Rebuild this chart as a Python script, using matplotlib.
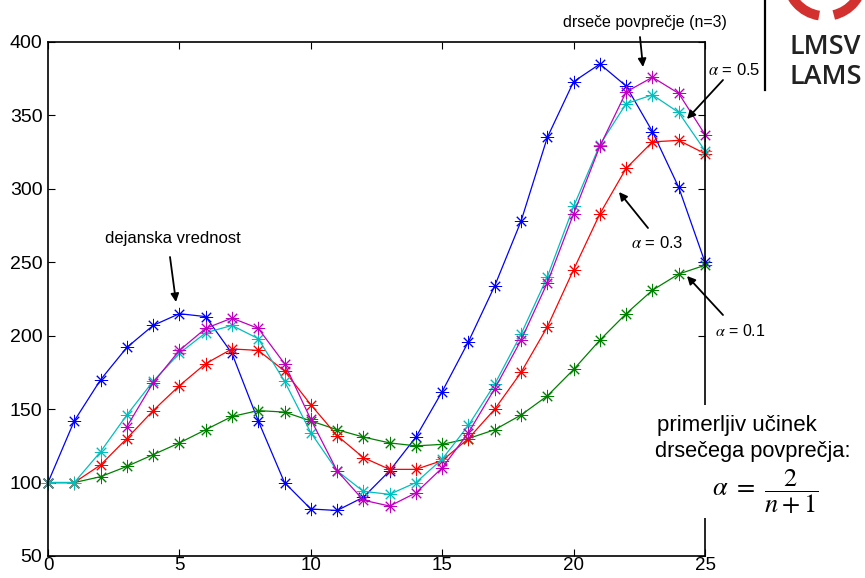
import matplotlib
matplotlib.use("Agg")
import matplotlib.pyplot as plt
from matplotlib.patches import Arc, Rectangle
from matplotlib.lines import Line2D

plt.rcParams["font.family"] = ["Liberation Sans", "DejaVu Sans"]
plt.rcParams["mathtext.fontset"] = "stix"

t = list(range(26))
actual = [100, 142, 170, 192, 207, 215, 213, 188, 142, 100, 82, 81, 90, 108, 131,
          162, 196, 234, 278, 335, 373, 385, 370, 339, 301, 250]
ema_03 = [100, 100, 112, 130, 149, 166, 181, 191, 190, 176, 153, 132, 117, 109, 109,
          115, 130, 150, 175, 206, 245, 283, 314, 332, 333, 324]
ema_01 = [100, 100, 104, 111, 119, 127, 136, 145, 149, 148, 142, 136, 131, 127, 125,
          126, 130, 136, 146, 159, 177, 197, 215, 231, 242, 248]
ema_05 = [100, 100, 121, 146, 169, 188, 202, 207, 198, 169, 134, 108, 94, 92, 100,
          116, 139, 167, 201, 240, 288, 330, 358, 364, 352, 326]
ma_t = list(range(3, 26))
ma_3 = [138, 168, 190, 205, 212, 205, 181, 143, 108, 88, 84, 93, 110, 134, 164,
        197, 236, 283, 329, 366, 376, 365, 337]

W, H = 865, 578
fig = plt.figure(figsize=(W / 100, H / 100), dpi=100)
ax = fig.add_axes([48 / W, 1 - 556 / H, (705 - 48) / W, (556 - 42) / H])

star = (8, 2, 0)
kw = dict(marker=star, markersize=9.5, markeredgewidth=0.7, lw=0.9, clip_on=False)
ax.plot(t, actual, color=(0, 0, 1), **kw)
ax.plot(t, ema_01, color=(0, 0.5, 0), **kw)
ax.plot(t, ema_03, color=(1, 0, 0), **kw)
ax.plot(t, ema_05, color=(0, 0.75, 0.75), **kw)
ax.plot(ma_t, ma_3, color=(0.75, 0, 0.75), **kw)

ax.set_xlim(0, 25)
ax.set_ylim(50, 400)
ax.set_xticks(range(0, 26, 5))
ax.set_yticks(range(50, 401, 50))
ax.tick_params(direction="in", top=True, right=True, length=5, labelsize=14)
ax.tick_params(axis="x", pad=1, labelsize=13.5)
ax.tick_params(axis="y", pad=4)
for s in ax.spines.values():
    s.set_linewidth(1.2)


def px(x, y):
    return (x, H - y)


arrow = dict(arrowstyle="-|>", color="k", lw=1.3, mutation_scale=12,
             shrinkA=0, shrinkB=0)


def arr(start, end):
    ax.annotate("", xy=px(*end), xycoords="figure pixels",
                xytext=px(*start), textcoords="figure pixels",
                arrowprops=arrow, annotation_clip=False)


fig.text(105 / W, 1 - 238 / H, "dejanska vrednost", fontsize=12, va="center")
arr((170, 257), (176, 302))
fig.text(563 / W, 1 - 23 / H, "drseče povprečje (n=3)", fontsize=11.5, va="center")
arr((640, 37), (643, 67))
fig.text(708 / W, 1 - 70 / H, r"$\alpha$ = 0.5", fontsize=12, va="center")
arr((723, 80), (687, 119))
fig.text(631 / W, 1 - 243 / H, r"$\alpha$ = 0.3", fontsize=12, va="center")
arr((648, 228), (619, 192))
fig.text(715 / W, 1 - 331 / H, r"$\alpha$ = 0.1", fontsize=11.5, va="center")
arr((723, 315), (687, 276))

# white box over the right spine for the note
fig.add_artist(Rectangle((650 / W, 1 - 518 / H), 215 / W, 113 / H,
                         transform=fig.transFigure, facecolor="white",
                         edgecolor="none", zorder=5))
fig.text(657 / W, 1 - 426 / H, "primerljiv učinek", fontsize=16, va="center",
         zorder=6)
fig.text(655 / W, 1 - 451 / H, "drsečega povprečja:", fontsize=15.7, va="center",
         zorder=6)
fig.text(765 / W, 1 - 492 / H, r"$\alpha\ =\ \dfrac{2}{n+1}$", fontsize=19,
         ha="center", va="center", zorder=6)

# logo in the corner
fig.add_artist(Line2D([765 / W, 765 / W], [1, 1 - 90 / H], color="k", lw=1.6,
                      transform=fig.transFigure))
fig.add_artist(Arc((825 / W, 1 + 22 / H), 76 / W, 76 / H, theta1=183,
                   theta2=264, color="#d2312f", lw=7, transform=fig.transFigure))
fig.add_artist(Arc((825 / W, 1 + 22 / H), 76 / W, 76 / H, theta1=279,
                   theta2=357, color="#d2312f", lw=7, transform=fig.transFigure))
fig.text(789 / W, 1 - 47 / H, "LMSV", fontsize=19.5, color="#222222",
         va="center", fontweight="semibold",
         fontfamily=["Open Sans", "DejaVu Sans"])
fig.text(789 / W, 1 - 77 / H, "LAMS", fontsize=19.5, color="#222222",
         va="center", fontweight="semibold",
         fontfamily=["Open Sans", "DejaVu Sans"])

fig.savefig("out.png", dpi=100)
